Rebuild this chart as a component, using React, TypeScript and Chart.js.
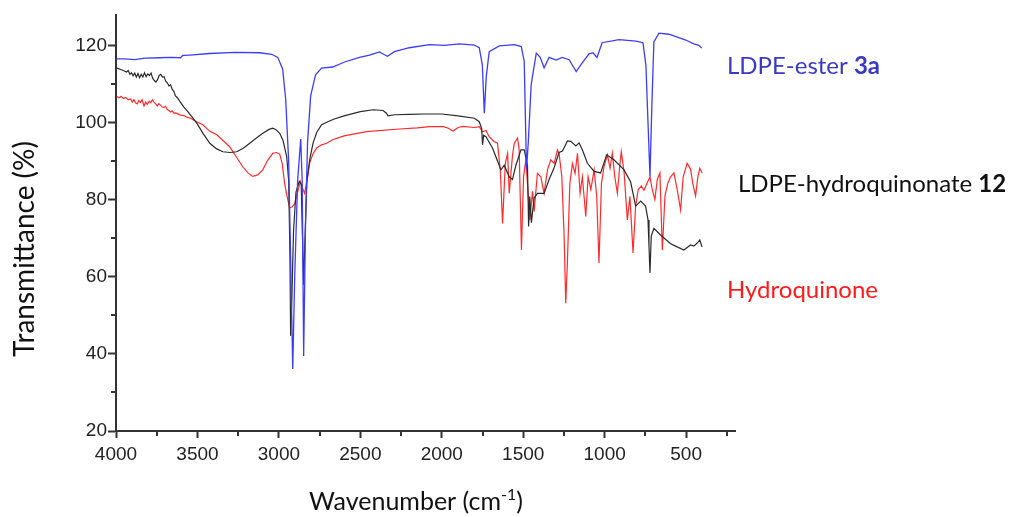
import React, { useEffect, useRef } from "react";
import { Chart, registerables } from "chart.js";

Chart.register(...registerables);

// ---- Data (wavenumber in cm-1, transmittance in %) ----
const esterWN = [3994, 3945, 3884, 3822, 3730, 3669, 3604, 3590, 3547, 3424, 3271, 3118, 3044, 3007, 2977, 2958, 2940, 2928, 2915, 2903, 2885, 2866, 2857, 2848, 2836, 2824, 2805, 2775, 2738, 2670, 2597, 2505, 2444, 2382, 2358, 2333, 2291, 2199, 2076, 1984, 1892, 1800, 1770, 1751, 1739, 1727, 1709, 1647, 1555, 1512, 1494, 1480, 1469, 1451, 1420, 1396, 1372, 1341, 1298, 1261, 1218, 1175, 1139, 1096, 1072, 1047, 1016, 912, 808, 765, 747, 734, 722, 710, 698, 667, 606, 502, 453, 422, 404];
const esterT = [116.6, 116.6, 116.4, 116.8, 116.9, 117.0, 116.9, 117.5, 117.6, 118.0, 118.3, 118.2, 117.8, 117.0, 114.0, 106, 90, 65, 36.1, 60, 85, 95.8, 85, 39.5, 75, 95, 107, 112.5, 114.2, 114.5, 115.8, 117.0, 117.6, 118.4, 117.8, 117.3, 118.5, 119.5, 120.3, 120.1, 120.5, 120.2, 119.5, 115, 102.5, 112, 118.5, 120.0, 120.3, 119.8, 116, 87.8, 95, 110, 118.1, 117, 114.3, 117, 116.3, 117.0, 116.4, 113.3, 115.5, 117.9, 118.2, 117.0, 120.8, 121.6, 121.2, 120.8, 115, 100, 86.1, 105, 121, 123.3, 123, 121.5, 120.5, 120.1, 119.4];

const hqnWN = [3994, 3975, 3955, 3935, 3925, 3915, 3905, 3895, 3885, 3875, 3865, 3855, 3845, 3835, 3825, 3815, 3805, 3795, 3785, 3775, 3765, 3755, 3745, 3735, 3725, 3715, 3705, 3695, 3685, 3675, 3665, 3655, 3645, 3635, 3624, 3605, 3583, 3560, 3542, 3502, 3465, 3424, 3384, 3344, 3300, 3259, 3219, 3179, 3140, 3099, 3060, 3038, 3020, 2995, 2975, 2952, 2940, 2932, 2928, 2920, 2910, 2895, 2875, 2863, 2855, 2848, 2840, 2828, 2811, 2790, 2768, 2738, 2700, 2660, 2600, 2500, 2420, 2360, 2340, 2330, 2290, 2200, 2100, 2000, 1900, 1800, 1770, 1755, 1750, 1743, 1729, 1688, 1658, 1637, 1617, 1586, 1566, 1545, 1514, 1494, 1474, 1467, 1460, 1450, 1433, 1413, 1372, 1341, 1310, 1280, 1259, 1229, 1208, 1177, 1157, 1137, 1106, 1065, 1025, 988, 943, 881, 841, 810, 779, 749, 734, 728, 722, 714, 698, 657, 595, 565, 514, 473, 453, 432, 416, 408, 402];
const hqnT = [114.2, 113.9, 113.6, 113.2, 113.6, 112.6, 113.0, 112.2, 112.9, 111.9, 112.8, 111.7, 112.6, 111.9, 113.0, 112.0, 112.7, 112.3, 112.9, 111.6, 111.0, 110.6, 111.2, 112.3, 112.6, 111.9, 112.0, 110.8, 110.4, 109.6, 109.9, 108.7, 108.2, 107.0, 106.6, 105.4, 104.1, 103.0, 102.0, 99.8, 97.2, 94.7, 93.3, 92.5, 92.3, 92.5, 93.4, 94.7, 96.0, 97.3, 98.3, 98.6, 98.3, 97.3, 95.5, 91.2, 85, 65, 44.7, 55, 72, 82, 84.8, 84, 70, 58, 70, 85, 90.4, 94.8, 97.5, 99.5, 100.3, 101.0, 101.8, 102.9, 103.4, 103.2, 102.5, 101.8, 102.1, 102.2, 102.3, 102.3, 101.8, 101.2, 100.3, 98.5, 94.3, 96.8, 96.4, 93.4, 90.1, 87.8, 89, 86, 85.3, 89, 93, 93, 89, 73.1, 80.9, 74.1, 80.5, 81.7, 81.7, 85.3, 88.4, 92.3, 92.7, 95.3, 95.2, 94.0, 94.8, 93, 89.5, 87.4, 87, 91.7, 90.4, 87.8, 84.7, 78.4, 79.7, 78.4, 74.8, 68, 61, 70.6, 72.6, 70.9, 68.6, 68.0, 67, 68.3, 68.0, 68.8, 69.6, 68.5, 67.8];

const hqWN = [3994, 3980, 3968, 3955, 3940, 3925, 3910, 3900, 3890, 3880, 3869, 3860, 3850, 3840, 3828, 3818, 3808, 3797, 3787, 3777, 3767, 3757, 3747, 3737, 3727, 3716, 3706, 3696, 3686, 3675, 3665, 3655, 3644, 3634, 3624, 3604, 3583, 3563, 3542, 3502, 3467, 3424, 3381, 3340, 3302, 3262, 3222, 3190, 3161, 3130, 3099, 3070, 3038, 3015, 2995, 2980, 2965, 2950, 2934, 2918, 2903, 2885, 2868, 2855, 2842, 2825, 2811, 2790, 2768, 2738, 2707, 2670, 2600, 2462, 2260, 2150, 2076, 1990, 1960, 1930, 1900, 1870, 1800, 1770, 1750, 1729, 1709, 1678, 1658, 1641, 1627, 1610, 1596, 1586, 1566, 1555, 1535, 1525, 1511, 1498, 1484, 1470, 1460, 1443, 1433, 1413, 1392, 1372, 1351, 1331, 1310, 1290, 1280, 1263, 1249, 1239, 1229, 1214, 1198, 1182, 1167, 1151, 1137, 1116, 1102, 1085, 1065, 1049, 1035, 1020, 1004, 983, 967, 953, 938, 922, 906, 898, 881, 861, 845, 826, 810, 794, 775, 759, 739, 722, 708, 692, 677, 661, 646, 630, 612, 595, 575, 555, 534, 518, 494, 473, 459, 442, 428, 416, 402];
const hqT = [106.8, 106.5, 106.9, 106.3, 106.6, 106.0, 106.2, 105.4, 106.0, 105.2, 104.9, 105.8, 105.3, 106.0, 104.4, 105.4, 104.8, 105.6, 105.2, 106.0, 105.3, 105.0, 104.4, 105.0, 104.6, 104.1, 104.0, 104.3, 103.5, 103.2, 102.8, 103.1, 102.5, 102.6, 102.4, 102.0, 101.9, 101.4, 101.2, 100.2, 99.5, 97.8, 96.9, 95.3, 93.8, 91.2, 88.6, 87.0, 86.1, 86.5, 87.8, 90.2, 92.1, 92.3, 91.9, 89.5, 84.3, 81, 77.9, 78.2, 79, 82, 84.8, 83, 81.7, 85.5, 89.6, 92, 93.5, 94.3, 94.7, 95.6, 96.6, 97.7, 98.4, 98.7, 99.0, 99.0, 98.6, 97.9, 98.8, 99.1, 98.8, 99.0, 97.7, 98, 96.4, 95.1, 94.7, 87.8, 73.9, 89.5, 92.1, 81.7, 91.5, 94.7, 96, 93, 67, 86, 90.4, 81.7, 74.8, 82.2, 77, 86.9, 86, 81.7, 87.8, 90.4, 89.5, 93, 92, 86, 70.5, 53.2, 63.6, 84.2, 89.4, 86.9, 92.1, 81.7, 86, 75.7, 86, 82.7, 87.8, 81.0, 63.6, 84.2, 88.7, 91.7, 88.2, 92.1, 86, 81.7, 89.5, 92.5, 87.2, 74.8, 80.9, 66.2, 78.4, 82.7, 83.6, 82.5, 84.4, 86, 82.7, 80.1, 85.3, 87, 67, 81, 84.4, 86, 87, 82.7, 77.4, 86, 89.5, 88, 84.2, 81, 86, 88.2, 87];

const xMajorTicks = [4000, 3500, 3000, 2500, 2000, 1500, 1000, 500];
const xMinorTicks = [3750, 3250, 2750, 2250, 1750, 1250, 750, 250];
const yMajorTicks = [20, 40, 60, 80, 100, 120];
const yMinorTicks = [30, 50, 70, 90, 110];

const seriesLabels = [
  { regular: "LDPE-ester ", bold: "3a", color: "#3a3ac4", x: 727, y: 74 },
  { regular: "LDPE-hydroquinonate ", bold: "12", color: "#111111", x: 738, y: 192 },
  { regular: "Hydroquinone", bold: "", color: "#ff1a1a", x: 727, y: 298 },
];

const toPoints = (xs: number[], ys: number[]) => xs.map((x, i) => ({ x, y: ys[i] }));

const AXIS_COLOR = "#333333";
const TITLE_FONT = "Lato, 'Open Sans', sans-serif";
const TICK_FONT = "'Liberation Sans', Arial, sans-serif";

const decorPlugin = {
  id: "decor",
  afterDraw(chart: any) {
    const ctx = chart.ctx as CanvasRenderingContext2D;
    const xs = chart.scales.x;
    const ys = chart.scales.y;
    const { left, bottom } = chart.chartArea;
    ctx.save();
    // minor ticks
    ctx.strokeStyle = AXIS_COLOR;
    ctx.lineWidth = 2;
    ctx.beginPath();
    xMinorTicks.forEach((v) => {
      const px = Math.round(xs.getPixelForValue(v));
      ctx.moveTo(px, bottom);
      ctx.lineTo(px, bottom + 5);
    });
    yMinorTicks.forEach((v) => {
      const py = Math.round(ys.getPixelForValue(v));
      ctx.moveTo(left, py);
      ctx.lineTo(left - 5, py);
    });
    ctx.stroke();

    // y title
    ctx.fillStyle = "#111";
    ctx.save();
    ctx.translate(25, 249);
    ctx.rotate(-Math.PI / 2);
    ctx.font = `28px ${TITLE_FONT}`;
    ctx.textAlign = "center";
    ctx.textBaseline = "middle";
    ctx.fillText("Transmittance (%)", 0, 0);
    ctx.restore();

    // x title with superscript
    const mainFont = `25px ${TITLE_FONT}`;
    const supFont = `16px ${TITLE_FONT}`;
    const p1 = "Wavenumber (cm";
    const sup = "-1";
    const p3 = ")";
    ctx.font = mainFont;
    const w1 = ctx.measureText(p1).width;
    const w3 = ctx.measureText(p3).width;
    ctx.font = supFont;
    const w2 = ctx.measureText(sup).width;
    const total = w1 + w2 + w3;
    let cx = 416 - total / 2;
    const base = 510;
    ctx.textAlign = "left";
    ctx.textBaseline = "alphabetic";
    ctx.font = mainFont;
    ctx.fillText(p1, cx, base);
    cx += w1;
    ctx.font = supFont;
    ctx.fillText(sup, cx, base - 10);
    cx += w2;
    ctx.font = mainFont;
    ctx.fillText(p3, cx, base);

    // series labels
    seriesLabels.forEach((l) => {
      ctx.fillStyle = l.color;
      ctx.font = `24px ${TITLE_FONT}`;
      ctx.fillText(l.regular, l.x, l.y);
      const w = ctx.measureText(l.regular).width;
      if (l.bold) {
        ctx.font = `bold 24px ${TITLE_FONT}`;
        ctx.fillText(l.bold, l.x + w, l.y);
      }
    });
    ctx.restore();
  },
};

export default function App() {
  const canvasRef = useRef<HTMLCanvasElement | null>(null);

  useEffect(() => {
    if (!canvasRef.current) return;
    const chart = new Chart(canvasRef.current, {
      type: "line",
      data: {
        datasets: [
          {
            label: "LDPE-ester 3a",
            data: toPoints(esterWN, esterT),
            borderColor: "#3c3cff",
            borderWidth: 1.3,
            pointRadius: 0,
            tension: 0,
          },
          {
            label: "LDPE-hydroquinonate 12",
            data: toPoints(hqnWN, hqnT),
            borderColor: "#2a2a2a",
            borderWidth: 1.2,
            pointRadius: 0,
            tension: 0,
          },
          {
            label: "Hydroquinone",
            data: toPoints(hqWN, hqT),
            borderColor: "#ff2a2a",
            borderWidth: 1.2,
            pointRadius: 0,
            tension: 0,
          },
        ],
      },
      options: {
        animation: false,
        responsive: false,
        maintainAspectRatio: false,
        layout: { padding: { left: 66, right: 281, top: 15, bottom: 36 } },
        plugins: { legend: { display: false }, tooltip: { enabled: false } },
        scales: {
          x: {
            type: "linear",
            min: 200,
            max: 4000,
            reverse: true,
            afterBuildTicks: (scale: any) => {
              scale.ticks = xMajorTicks.map((v) => ({ value: v }));
            },
            afterFit: (scale: any) => {
              scale.height = 50;
            },
            grid: {
              display: true,
              drawOnChartArea: false,
              drawTicks: true,
              tickLength: 7,
              tickColor: AXIS_COLOR,
              tickWidth: 2,
            },
            border: { display: true, color: AXIS_COLOR, width: 2 },
            ticks: {
              color: "#222",
              font: { family: TICK_FONT, size: 19 },
              padding: 5,
              maxRotation: 0,
              autoSkip: false,
              callback: (v: any) => String(v),
            },
          },
          y: {
            type: "linear",
            min: 20,
            max: 128,
            afterBuildTicks: (scale: any) => {
              scale.ticks = yMajorTicks.map((v) => ({ value: v }));
            },
            afterFit: (scale: any) => {
              scale.width = 50;
            },
            grid: {
              display: true,
              drawOnChartArea: false,
              drawTicks: true,
              tickLength: 8,
              tickColor: AXIS_COLOR,
              tickWidth: 2,
            },
            border: { display: true, color: AXIS_COLOR, width: 2 },
            ticks: {
              color: "#222",
              font: { family: TICK_FONT, size: 19 },
              padding: 1,
              callback: (v: any) => String(v),
            },
          },
        },
      },
      plugins: [decorPlugin],
    });
    return () => chart.destroy();
  }, []);

  return (
    <div style={{ position: "fixed", left: 0, top: 0, width: 1016, height: 517, background: "#fff" }}>
      <canvas ref={canvasRef} width={1016} height={517} style={{ display: "block" }} />
    </div>
  );
}
